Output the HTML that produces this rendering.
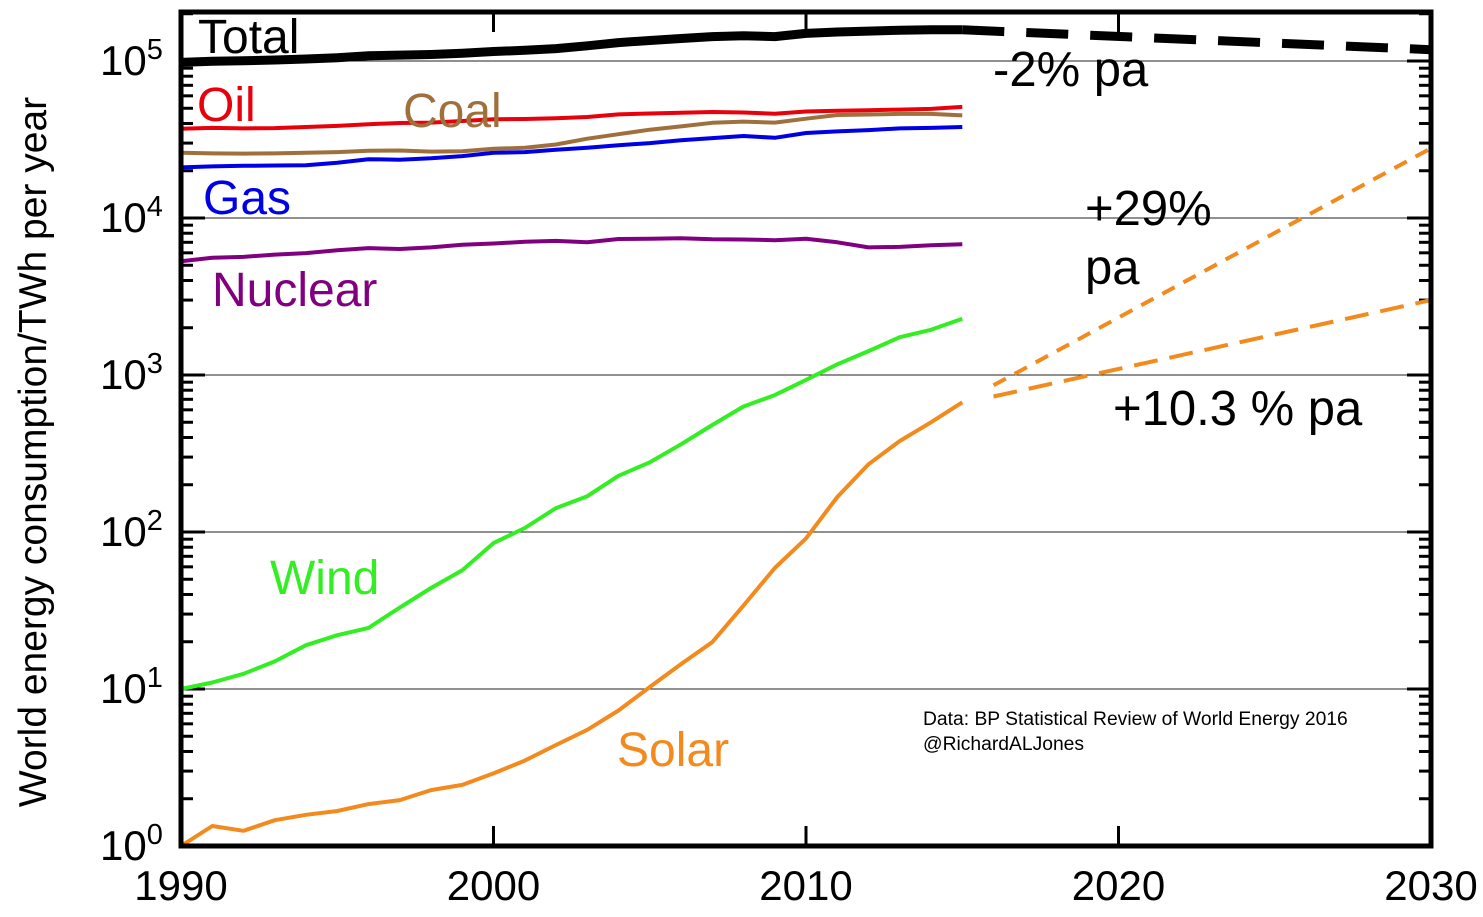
<!DOCTYPE html>
<html><head><meta charset="utf-8"><style>
body{margin:0;background:#fff}
svg{display:block;font-family:"Liberation Sans",Arial,sans-serif}
</style></head><body>
<svg id="chart" width="1483" height="917" viewBox="0 0 1483 917"></svg>
<script>
const years=[1990,1991,1992,1993,1994,1995,1996,1997,1998,1999,2000,2001,2002,2003,2004,2005,2006,2007,2008,2009,2010,2011,2012,2013,2014,2015];
const totalVals=[98000,99500,100500,101500,103000,105000,108000,109000,110000,112000,115000,117000,120000,125000,131000,135000,139000,143000,145000,143000,150000,153000,155000,157000,158000,158000];
const oilVals=[37000,37500,37200,37400,38000,38600,39600,40300,40500,41500,42500,42700,43200,44000,45700,46300,46800,47300,47000,46200,47700,48200,48600,49000,49500,51000];
const coalVals=[26000,25800,25700,25800,26000,26300,26800,26900,26500,26600,27600,28000,29400,32000,34200,36500,38300,40400,41100,40500,42900,45300,45600,46000,46000,45000];
const gasVals=[21000,21300,21500,21600,21700,22500,23700,23500,24000,24800,26000,26300,27200,28000,29100,30000,31300,32300,33300,32400,34800,35600,36300,37200,37500,38000];
const nuclearVals=[5300,5580,5650,5850,5980,6230,6430,6350,6500,6750,6880,7050,7150,7000,7350,7370,7440,7330,7300,7220,7370,7000,6500,6550,6700,6800];
const windVals=[10,11,12.5,15,19,22,24.5,33,44,57,85,106,142,169,228,278,362,480,630,745,930,1170,1420,1740,1940,2280];
const solarVals=[1,1.34,1.25,1.46,1.58,1.67,1.85,1.96,2.27,2.45,2.9,3.5,4.4,5.5,7.3,10.3,14.4,19.9,34,59,91,167,270,380,500,670];
const projYears=[2016,2030];
const totalProj=[158000,118000];
const solarProjLow=[730,3000];
const solarProjHigh=[860,27800];
const xTicks=[1990,2000,2010,2020,2030];
const yExps=[0,1,2,3,4,5];

const X0=181,X1=1431,YB=846,DEC=157,YT=12;
const xs=y=>X0+(y-1990)*(X1-X0)/40;
const ys=v=>YB-Math.log10(v)*DEC;
const svg=document.getElementById('chart');
const NS='http://www.w3.org/2000/svg';
function mk(t,a,p){const e=document.createElementNS(NS,t);for(const k in a)e.setAttribute(k,a[k]);(p||svg).appendChild(e);return e;}

yExps.slice(1).forEach(k=>{
 const g=mk('line',{x1:X0,x2:X1,y1:ys(Math.pow(10,k)),y2:ys(Math.pow(10,k)),stroke:'#222','stroke-width':1});
 
 
});
for(let k=0;k<6;k++){for(let m=1;m<10;m++){const v=m*Math.pow(10,k);const y=ys(v);if(y<YT)continue;
 const L=m===1?24:12;
 const t1=mk('line',{x1:X0,x2:X0+L,y1:y,y2:y,stroke:'#000','stroke-width':3});
 
 
 const t2=mk('line',{x1:X1,x2:X1-L,y1:y,y2:y,stroke:'#000','stroke-width':3});
 
 
}}
xTicks.forEach(yr=>{
 const x=xs(yr);
 const a=mk('line',{x1:x,x2:x,y1:YB,y2:YB-20,stroke:'#000','stroke-width':3});
 
 
 const b=mk('line',{x1:x,x2:x,y1:YT,y2:YT+20,stroke:'#000','stroke-width':3});
 
 
 const t=mk('text',{x:x,y:900,'font-size':42,'text-anchor':'middle'});t.textContent=yr;
 
 
});
yExps.forEach(k=>{
 const y=ys(Math.pow(10,k));
 const t=mk('text',{x:100,y:y+14,'font-size':42});
 
 
 t.textContent='10';
 const s=mk('tspan',{dy:-16,'font-size':29},t);s.textContent=k;
});
function line(xa,va,color,w,dash,name){
 const d=xa.map((yr,i)=>(i?'L':'M')+xs(yr).toFixed(1)+' '+ys(va[i]).toFixed(1)).join(' ');
 const p=mk('path',{d:d,fill:'none',stroke:color,'stroke-width':w,'stroke-linejoin':'round'});
 if(dash)p.setAttribute('stroke-dasharray',dash);
 
 
}
line(years,nuclearVals,'#800080',4,null,'nuclear-line');
line(years,gasVals,'#0000e6',4,null,'gas-line');
line(years,coalVals,'#a0703c',4,null,'coal-line');
line(years,oilVals,'#e8000b',4,null,'oil-line');
line(years,windVals,'#33ee22',4,null,'wind-line');
line(years,solarVals,'#f28a1e',4,null,'solar-line');
line(years,totalVals,'#000',9,null,'total-line');
line([2015,2030],[totalVals[totalVals.length-1],totalProj[1]],'#000',9,'42 22','total-projection');
line(projYears,solarProjLow,'#f28a1e',4,'24 12','solar-projection-10pct');
line(projYears,solarProjHigh,'#f28a1e',4,'14 10','solar-projection-29pct');

const fr=mk('rect',{x:X0,y:YT,width:X1-X0,height:YB-YT,fill:'none',stroke:'#000','stroke-width':5});



function label(txt,x,y,size,color,name){const t=mk('text',{x:x,y:y,'font-size':size,fill:color});t.textContent=txt;
 
 return t;}
label('Total',198,53,48,'#000','total-label');
label('Oil',197,121,48,'#e8000b','oil-label');
label('Coal',403,127,48,'#a0703c','coal-label');
label('Gas',203,214,48,'#0000e6','gas-label');
label('Nuclear',212,306,48,'#800080','nuclear-label');
label('Wind',270,594,48,'#33ee22','wind-label');
label('Solar',617,766,48,'#f28a1e','solar-label');
label('-2% pa',993,86,49,'#000','total-rate-label');
label('+29%',1085,225,49,'#000','high-rate-label');
label('pa',1085,284,49,'#000','high-rate-label-pa');
label('+10.3 % pa',1113,425,49,'#000','low-rate-label');
label('Data: BP Statistical Review of World Energy 2016',923,725,19.3,'#000','data-source-note');
label('@RichardALJones',923,750,19.3,'#000','author-note');
const yt=mk('text',{x:0,y:0,'font-size':39,'text-anchor':'middle',transform:'translate(46,452) rotate(-90)'});
yt.textContent='World energy consumption/TWh per year';


</script>
</body></html>
